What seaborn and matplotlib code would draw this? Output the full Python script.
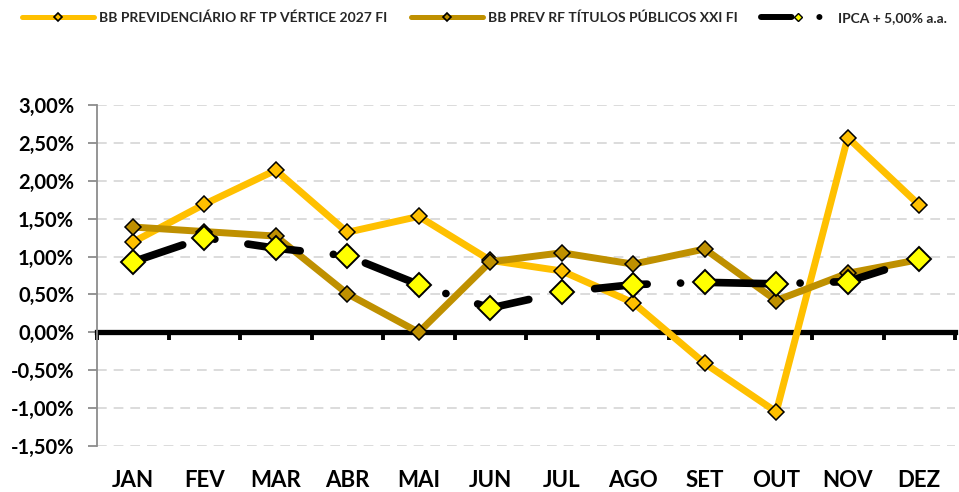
import matplotlib
matplotlib.use('Agg')
import numpy as np
import pandas as pd
import seaborn as sns
import matplotlib.pyplot as plt
from matplotlib.lines import Line2D
from matplotlib.ticker import FuncFormatter

months = ['JAN', 'FEV', 'MAR', 'ABR', 'MAI', 'JUN', 'JUL', 'AGO', 'SET', 'OUT', 'NOV', 'DEZ']
vertice_2027 = [1.19, 1.69, 2.14, 1.32, 1.53, 0.95, 0.81, 0.39, -0.41, -1.05, 2.57, 1.68]
titulos_xxi = [1.39, 1.33, 1.27, 0.51, 0.00, 0.93, 1.05, 0.90, 1.10, 0.42, 0.78, 0.96]
ipca_5 = [0.93, 1.25, 1.11, 1.01, 0.63, 0.32, 0.53, 0.63, 0.66, 0.64, 0.67, 0.97]
labels = ['BB PREVIDENCIÁRIO RF TP VÉRTICE 2027 FI', 'BB PREV RF TÍTULOS PÚBLICOS XXI FI', 'IPCA + 5,00% a.a.']

orange = '#FFC000'
gold = '#BF9000'

sns.set_style('white')
plt.rcParams['font.family'] = ['Lato', 'DejaVu Sans']
plt.rcParams['font.weight'] = 'bold'
plt.rcParams['lines.scale_dashes'] = False

df = pd.DataFrame({'mes': months, 'v2027': vertice_2027, 'xxi': titulos_xxi, 'ipca': ipca_5})

fig = plt.figure(figsize=(9.59, 4.92), dpi=100)
ax = fig.add_axes([97 / 959, 46 / 492, 858 / 959, 341 / 492])

sns.lineplot(data=df, x='mes', y='v2027', ax=ax, sort=False, color=orange, lw=5,
             marker='D', markersize=7.8, markerfacecolor=orange, markeredgecolor='black',
             markeredgewidth=1.1, solid_joinstyle='miter', zorder=3)
sns.lineplot(data=df, x='mes', y='xxi', ax=ax, sort=False, color=gold, lw=5,
             marker='D', markersize=7.8, markerfacecolor=gold, markeredgecolor='black',
             markeredgewidth=1.1, solid_joinstyle='miter', zorder=4)
sns.lineplot(data=df, x='mes', y='ipca', ax=ax, sort=False, color='black', lw=5.5,
             linestyle=(0, (38, 24, 0.1, 24)), dash_capstyle='round',
             marker='D', markersize=12.5, markerfacecolor='#FFFF00', markeredgecolor='black',
             markeredgewidth=1.4, zorder=5)

ax.set_xlim(-0.5, 11.5)
ax.set_ylim(-1.5, 3.0)
ax.set_yticks(np.arange(-1.5, 3.01, 0.5))
ax.yaxis.set_major_formatter(FuncFormatter(lambda v, p: f'{v:.2f}%'.replace('.', ',')))
ax.set_xticks(range(12), months)
ax.set_xlabel('')
ax.set_ylabel('')

ax.grid(axis='y', color='#D9D9D9', lw=1.3, linestyle=(0, (7, 5)))
ax.grid(axis='x', visible=False)
for s in ['top', 'right', 'bottom']:
    ax.spines[s].set_visible(False)
ax.spines['left'].set_color('#8C8C8C')
ax.spines['left'].set_linewidth(1.3)
ax.tick_params(axis='y', left=True, length=6.5, width=1.3, color='#8C8C8C', pad=10,
               labelsize=14.5, labelcolor='black')
ax.tick_params(axis='x', bottom=False, length=0, pad=17, labelsize=16, labelcolor='black')

# eixo zero com marcas entre os meses
zero = ax.secondary_xaxis(1.5 / 4.5)
zero.set_zorder(1)
zero.spines['bottom'].set_linewidth(3.8)
zero.spines['bottom'].set_color('black')
zero.set_xticks(np.arange(-0.5, 12, 1))
zero.tick_params(axis='x', length=6, width=2.8, color='black', labelbottom=False)

handles = [
    Line2D([], [], color=orange, lw=3.6, marker='D', markersize=4.5,
           markerfacecolor=orange, markeredgecolor='black', markeredgewidth=1.2),
    Line2D([], [], color=gold, lw=3.6, marker='D', markersize=4.5,
           markerfacecolor=gold, markeredgecolor='black', markeredgewidth=1.2),
    Line2D([], [], color='black', lw=4.3, linestyle=(0, (22, 20, 0.1, 100)),
           dash_capstyle='round', marker='D', markersize=4.5,
           markerfacecolor='#FFFF00', markeredgecolor='black', markeredgewidth=1.0),
]
fig.legend(handles, labels, loc='center left', bbox_to_anchor=(22 / 959, 1 - 18 / 492),
           ncol=3, frameon=False, borderpad=0, borderaxespad=0, handlelength=5.2,
           handletextpad=0.35, columnspacing=1.7, prop={'size': 10, 'weight': 'bold'})

fig.savefig('out.png', dpi=100)
